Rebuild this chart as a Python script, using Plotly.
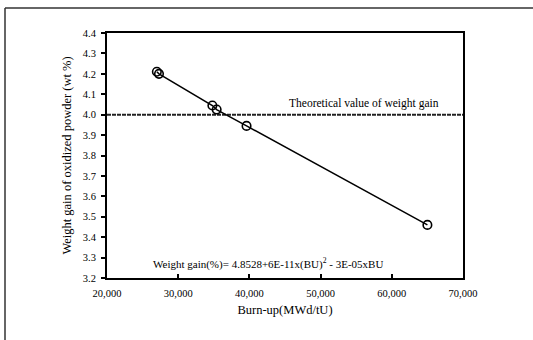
import plotly.graph_objects as go

# Data
burnup = [27000, 27300, 34800, 35400, 39600, 65000]
weight_gain = [4.21, 4.20, 4.045, 4.025, 3.945, 3.46]
theoretical_value = 4.0
theory_x = [20000, 70000]
x_ticks = [20000, 30000, 40000, 50000, 60000, 70000]
y_ticks = [3.2, 3.3, 3.4, 3.5, 3.6, 3.7, 3.8, 3.9, 4.0, 4.1, 4.2, 4.3, 4.4]

FONT = "Liberation Serif, Times New Roman, DejaVu Serif, serif"
W, H = 533, 340
L, R, T, B = 107, 70, 33, 62
pw, ph = W - L - R, H - T - B

fig = go.Figure()
fig.add_trace(go.Scatter(
    x=theory_x, y=[theoretical_value] * len(theory_x), mode="lines",
    line=dict(color="#222", width=2, dash="4px,1px"), hoverinfo="skip", showlegend=False))
fig.add_trace(go.Scatter(
    x=burnup, y=weight_gain, mode="lines+markers",
    line=dict(color="black", width=1.5),
    marker=dict(symbol="circle-open", size=8.5, color="black", line=dict(width=1.6, color="black")),
    showlegend=False))

fig.add_annotation(x=56100, y=theoretical_value, xref="x", yref="y",
                   text="Theoretical value of weight gain", showarrow=False,
                   yanchor="bottom", yshift=3, xanchor="center",
                   font=dict(family=FONT, size=11.5, color="black"))
fig.add_annotation(x=26240, y=3.273, xref="x", yref="y",
                   text="Weight gain(%)= 4.8528+6E-11x(BU)<sup>2</sup> - 3E-05xBU",
                   showarrow=False, xanchor="left", yanchor="middle",
                   font=dict(family=FONT, size=11, color="black"))

# outer frame of the scanned figure (left and top edges)
px = lambda v: (v - L) / pw
py = lambda v: 1 + (T - v) / ph
fig.add_shape(type="line", xref="paper", yref="paper", x0=px(5), x1=px(5), y0=py(8), y1=py(345),
              line=dict(color="#333", width=1.5))
fig.add_shape(type="line", xref="paper", yref="paper", x0=px(5), x1=px(540), y0=py(8), y1=py(8),
              line=dict(color="#333", width=1.5))

fig.update_layout(
    width=W, height=H,
    margin=dict(l=L, r=R, t=T, b=B),
    paper_bgcolor="white", plot_bgcolor="white",
    font=dict(family=FONT, color="black"),
    xaxis=dict(range=[20000, 70000], tickvals=x_ticks,
               ticktext=[f"{v:,}" for v in x_ticks],
               ticks="inside", ticklen=4, tickwidth=1.5, tickcolor="black",
               showline=True, linecolor="black", linewidth=2, mirror=True,
               showgrid=False, zeroline=False,
               tickfont=dict(family=FONT, size=10.5, color="black"),
               ticklabelstandoff=4,
               title=dict(text="Burn-up(MWd/tU)", font=dict(family=FONT, size=12.5), standoff=8)),
    yaxis=dict(range=[3.2, 4.4], tickvals=y_ticks,
               ticktext=[f"{v:.1f}" for v in y_ticks],
               ticks="outside", ticklen=4, tickwidth=1.5, tickcolor="black",
               showline=True, linecolor="black", linewidth=2, mirror=True,
               showgrid=False, zeroline=False,
               tickfont=dict(family=FONT, size=10.5, color="black"),
               ticklabelstandoff=3,
               title=dict(text="Weight gain of oxidized powder (wt %)", font=dict(family=FONT, size=12.5), standoff=8)),
)

fig.write_html("out.html")
